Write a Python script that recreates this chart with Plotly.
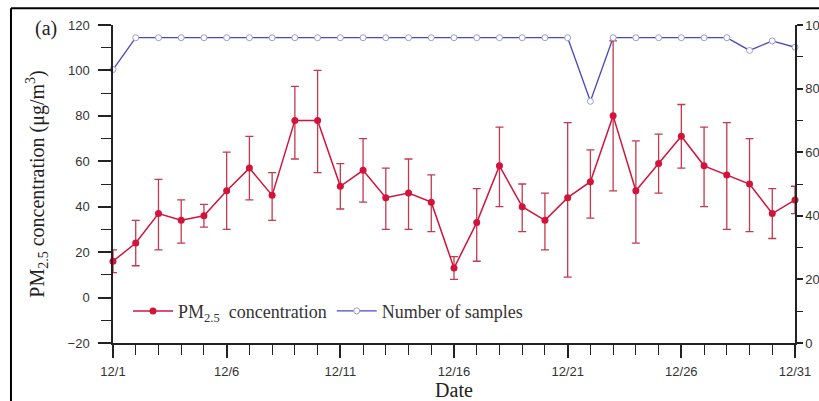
import plotly.graph_objects as go

days = list(range(1, 32))
pm25 = [16, 24, 37, 34, 36, 47, 57, 45, 78, 78, 49, 56, 44, 46, 42, 13, 33, 58, 40, 34,
        44, 51, 80, 47, 59, 71, 58, 54, 50, 37, 43]
pm25_upper = [21, 34, 52, 43, 41, 64, 71, 55, 93, 100, 59, 70, 57, 61, 54, 18, 48, 75, 50, 46,
              77, 65, 113, 69, 72, 85, 75, 77, 70, 48, 49]
pm25_lower = [11, 14, 21, 24, 31, 30, 43, 34, 61, 55, 39, 42, 30, 30, 29, 8, 16, 40, 29, 21,
              9, 35, 47, 24, 46, 57, 40, 30, 29, 26, 37]
samples = [86, 96, 96, 96, 96, 96, 96, 96, 96, 96, 96, 96, 96, 96, 96, 96, 96, 96, 96, 96,
           96, 76, 96, 96, 96, 96, 96, 96, 92, 95, 93]
tick_days = [1, 6, 11, 16, 21, 26, 31]
tick_labels = ["12/1", "12/6", "12/11", "12/16", "12/21", "12/26", "12/31"]

err_plus = [u - v for u, v in zip(pm25_upper, pm25)]
err_minus = [v - l for v, l in zip(pm25, pm25_lower)]

RED = "#d2143c"
BLUE = "#4848c0"

fig = go.Figure()
fig.add_trace(go.Scatter(
    x=days, y=pm25, mode="lines+markers",
    name="PM<sub>2.5</sub>  concentration",
    line=dict(color=RED, width=1.5),
    marker=dict(color=RED, size=7, symbol="circle"),
    error_y=dict(type="data", symmetric=False, array=err_plus, arrayminus=err_minus,
                 color="#c23a4e", thickness=1.3, width=4),
    cliponaxis=False,
))
fig.add_trace(go.Scatter(
    x=days, y=samples, mode="lines+markers", yaxis="y2",
    name="Number of samples",
    line=dict(color=BLUE, width=1.3),
    marker=dict(color="white", size=6, symbol="circle",
                line=dict(color="#9a9ad8", width=1)),
    cliponaxis=False,
))

axis_font = dict(family="Liberation Sans, Arial", size=13, color="#333")
title_font = dict(family="Liberation Serif, Times New Roman", size=20, color="#222")

fig.update_layout(
    width=819, height=401,
    margin=dict(l=113, r=24, t=25, b=58),
    paper_bgcolor="white", plot_bgcolor="white",
    showlegend=True,
    legend=dict(orientation="h", x=0.022, y=0.1, xanchor="left", yanchor="middle",
                font=dict(family="Liberation Serif, Times New Roman", size=18, color="#333"),
                bgcolor="rgba(0,0,0,0)", itemwidth=40, tracegroupgap=0),
    xaxis=dict(
        range=[1, 31], tickvals=tick_days, ticktext=tick_labels, automargin=False,
        showline=True, linecolor="#222", linewidth=1.5, mirror=False,
        ticks="outside", ticklen=13, tickwidth=1.5, tickcolor="#222",
        minor=dict(dtick=1, tick0=1, ticks="outside", ticklen=10, tickwidth=1.2, tickcolor="#222"),
        showgrid=False, zeroline=False, tickfont=axis_font, ticklabelstandoff=3,
        title=dict(text="Date", font=title_font, standoff=7),
    ),
    yaxis=dict(
        range=[-20, 120], dtick=20, tick0=0, automargin=False,
        showline=True, linecolor="#222", linewidth=1.5,
        ticks="outside", ticklen=13, tickwidth=1.5, tickcolor="#222",
        minor=dict(dtick=10, ticks="outside", ticklen=10, tickwidth=1.2, tickcolor="#222"),
        showgrid=False, zeroline=False, tickfont=axis_font, ticklabelstandoff=6,
        title=dict(text="PM<sub>2.5</sub> concentration (μg/m<sup>3</sup>)", font=title_font, standoff=18),
    ),
    yaxis2=dict(
        range=[0, 100], dtick=20, overlaying="y", side="right", automargin=False,
        showline=True, linecolor="#222", linewidth=1.5,
        ticks="outside", ticklen=6, tickwidth=1.5, tickcolor="#222",
        minor=dict(dtick=10, ticks="outside", ticklen=6, tickwidth=1.2, tickcolor="#222"),
        showgrid=False, zeroline=False, tickfont=axis_font,
    ),
)

fig.add_annotation(text="(a)", xref="paper", yref="paper", x=-0.098,
                   y=0.99, xanchor="center", yanchor="middle", showarrow=False,
                   font=dict(family="Liberation Serif, Times New Roman", size=20, color="#222"))

# outer frame (left and top edges visible)
fig.add_shape(type="line", xref="paper", yref="paper", x0=-0.1496, x1=1.2, y0=1.053, y1=1.053,
              line=dict(color="black", width=2))
fig.add_shape(type="line", xref="paper", yref="paper", x0=-0.1496, x1=-0.1496, y0=1.053, y1=-0.3,
              line=dict(color="black", width=2))

fig.write_html("out.html")
